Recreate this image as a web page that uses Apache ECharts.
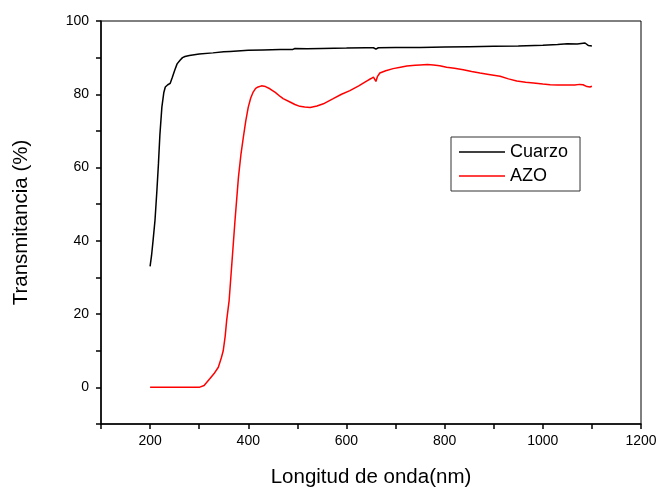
<!DOCTYPE html>
<html><head><meta charset="utf-8">
<script src="https://cdn.jsdelivr.net/npm/echarts@6/dist/echarts.min.js"></script>
<style>html,body{margin:0;padding:0;background:#fff}#c{width:660px;height:487px}</style>
</head><body><div id="c"></div>
<script>
const cuarzoX = [200,203,206,210,214,217,220,224,228,231,236,241,245,250,255,261,266,271,280,300,328,350,363,400,430,465,490,495,520,550,600,640,655,660,665,700,750,800,850,900,950,1000,1030,1050,1070,1086,1093,1100];
const cuarzoY = [33,36,40,45.6,54,61,69,76.5,80.5,82,82.6,83,84.5,86.5,88.3,89.3,90,90.3,90.6,91,91.3,91.6,91.7,92,92.1,92.2,92.2,92.5,92.4,92.5,92.6,92.7,92.7,92.3,92.7,92.8,92.8,92.9,93,93.1,93.2,93.4,93.6,93.8,93.7,94,93.3,93.2];
const azoX = [200,250,300,310,322,330,339,345,349,353,356,361,366,373,380,385,390,395,400,405,410,415,420,427,435,444,455,465,471,485,495,505,515,526,540,553,573,590,607,625,641,650,655,658,660,663,668,680,695,710,723,740,750,765,777,790,804,820,838,855,872,890,913,930,947,965,981,1000,1015,1030,1049,1065,1075,1082,1090,1096,1100];
const azoY = [0,0,0,0.5,2.4,3.7,5.5,8,10,14,18.3,23.7,32.8,45.6,57.4,63.5,68.3,72.8,76.5,79,80.6,81.6,82,82.3,82.1,81.5,80.5,79.4,78.8,77.9,77.2,76.7,76.5,76.4,76.8,77.4,78.8,80,81,82.3,83.6,84.3,84.7,84.5,83.5,84.8,85.8,86.4,87,87.4,87.7,87.9,88,88.1,88,87.8,87.4,87.1,86.7,86.2,85.8,85.4,84.9,84.2,83.6,83.3,83.1,82.8,82.6,82.5,82.5,82.5,82.7,82.6,82.1,82,82.2];
const seriesNames = ['Cuarzo','AZO'];
const xTitle = 'Longitud de onda(nm)';
const yTitle = 'Transmitancia (%)';

const pair = (xs, ys) => xs.map((x, i) => [x, ys[i]]);
const font = 'Liberation Sans, Arial, sans-serif';
const chart = echarts.init(document.getElementById('c'));
chart.setOption({
  animation: false,
  grid: {left: 101, right: 19, top: 21, bottom: 63, show: true, borderColor: '#000', borderWidth: 1,
    outerBoundsMode: 'none', containLabel: false},
  legend: {
    orient: 'vertical', left: 451, top: 137,
    data: seriesNames,
    icon: 'rect', itemWidth: 46, itemHeight: 1.5, itemGap: 6,
    padding: [6, 12, 6, 8],
    borderColor: '#333', borderWidth: 1,
    textStyle: {fontFamily: font, fontSize: 18, color: '#000'}
  },
  xAxis: {
    type: 'value', min: 100, max: 1200, interval: 100,
    name: xTitle, nameLocation: 'middle', nameGap: 43,
    nameTextStyle: {fontFamily: font, fontSize: 20.5, color: '#000'},
    axisLine: {onZero: false, lineStyle: {color: '#000', width: 1.5}},
    axisTick: {length: 5, lineStyle: {color: '#000', width: 1.5}},
    axisLabel: {margin: 10, fontFamily: font, fontSize: 14, color: '#000',
      formatter: v => (v % 200 === 0 ? String(v) : '')},
    splitLine: {show: false}
  },
  yAxis: {
    type: 'value', min: -10, max: 100, interval: 10,
    name: yTitle, nameLocation: 'middle', nameGap: 69,
    nameTextStyle: {fontFamily: font, fontSize: 20.5, color: '#000'},
    axisLine: {onZero: false, lineStyle: {color: '#000', width: 1.5}},
    axisTick: {length: 5, lineStyle: {color: '#000', width: 1.5}},
    axisLabel: {margin: 12, fontFamily: font, fontSize: 14, color: '#000',
      formatter: v => (v % 20 === 0 ? String(v) : '')},
    splitLine: {show: false}
  },
  series: [
    {name: seriesNames[0], type: 'line', data: pair(cuarzoX, cuarzoY), showSymbol: false, symbol: 'none',
      lineStyle: {color: '#000', width: 1.5}, itemStyle: {color: '#000'}},
    {name: seriesNames[1], type: 'line', data: pair(azoX, azoY), showSymbol: false, symbol: 'none',
      lineStyle: {color: '#ff0000', width: 1.5}, itemStyle: {color: '#ff0000'}}
  ]
});
</script></body></html>
